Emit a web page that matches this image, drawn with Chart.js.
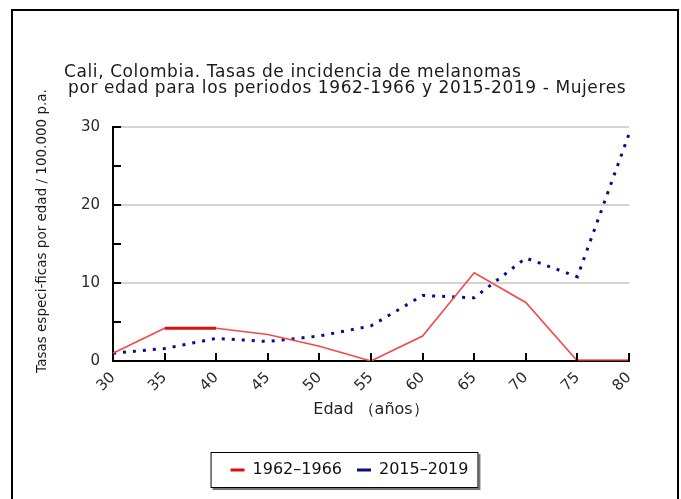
<!DOCTYPE html>
<html>
<head>
<meta charset="utf-8">
<script src="https://cdn.jsdelivr.net/npm/chart.js@4.4.0/dist/chart.umd.min.js"></script>
<style>
  html, body { margin: 0; padding: 0; background: #fff; }
  #wrap { width: 681px; height: 499px; position: relative; }
</style>
</head>
<body>
<div id="wrap"><canvas id="myChart" width="681" height="499"></canvas></div>
<script>
// datos
const edades = ["30", "35", "40", "45", "50", "55", "60", "65", "70", "75", "80"];
const tasas1962 = [1.0, 4.2, 4.2, 3.4, 1.9, 0.0, 3.2, 11.3, 7.5, 0.0, 0.0];
const tasas2015 = [1.0, 1.6, 2.9, 2.5, 3.2, 4.5, 8.4, 8.1, 13.2, 10.8, 29.1];
const yTicks = [0, 10, 20, 30];
const titulo = ["Cali, Colombia. Tasas de incidencia de melanomas",
  " por edad para los periodos 1962-1966 y 2015-2019 - Mujeres"];
const tituloY = "Tasas especi-ficas por edad / 100.000 p.a.";
const tituloX = "Edad \uFF08años\uFF09";
const series = ["1962\u20131966", "2015\u20132019"];

const FONT = "'DejaVu Sans', Verdana, sans-serif";

const decor = {
  id: "decor",
  beforeDraw(chart) {
    const ctx = chart.ctx;
    ctx.save();
    // marco
    ctx.strokeStyle = "#000";
    ctx.lineWidth = 2;
    ctx.strokeRect(12, 10, 666, 600);

    // titulo
    ctx.fillStyle = "#1a1a1a";
    ctx.font = "17px " + FONT;
    ctx.letterSpacing = "0.6px";
    ctx.textAlign = "left";
    ctx.textBaseline = "alphabetic";
    ctx.fillText(titulo[0], 64, 77);
    ctx.fillText(titulo[1], 62, 93);
    ctx.letterSpacing = "0px";

    // titulo eje y
    ctx.font = "13.5px " + FONT;
    ctx.textAlign = "center";
    ctx.textBaseline = "middle";
    ctx.translate(42, 231);
    ctx.rotate(-Math.PI / 2);
    ctx.fillText(tituloY, 0, 0);
    ctx.restore();

    // caja de la leyenda
    const hb = chart.legend.legendHitBoxes;
    if (hb && hb.length) {
      const last = hb[hb.length - 1];
      const l = hb[0].left - 20;
      const r = last.left + last.width + 10;
      const cy = hb[0].top + hb[0].height / 2;
      ctx.save();
      ctx.fillStyle = "#777";
      ctx.fillRect(l + 2, cy - 18 + 2, r - l, 36);
      ctx.fillStyle = "#fff";
      ctx.fillRect(l, cy - 18, r - l, 36);
      ctx.strokeStyle = "#000";
      ctx.lineWidth = 1;
      ctx.strokeRect(l + 0.5, cy - 18 + 0.5, r - l - 1, 35);
      ctx.restore();
    }
  },
  afterDraw(chart) {
    // marcas hacia dentro
    const ctx = chart.ctx;
    const x = chart.scales.x, y = chart.scales.y;
    ctx.save();
    ctx.strokeStyle = "#000";
    ctx.lineWidth = 2;
    ctx.beginPath();
    y.ticks.forEach((t) => {
      if (t.value === 0) return;
      const py = Math.round(y.getPixelForValue(t.value));
      ctx.moveTo(y.right, py);
      ctx.lineTo(y.right + 8, py);
    });
    edades.forEach((e, i) => {
      if (i === 0) return;
      const px = Math.round(x.getPixelForValue(i));
      ctx.moveTo(px, x.top);
      ctx.lineTo(px, x.top - 8);
    });
    ctx.stroke();
    ctx.restore();
  }
};

const plano = (c) => c.p0.parsed.y === c.p1.parsed.y;

const ctx = document.getElementById("myChart").getContext("2d");

new Chart(ctx, {
  type: "line",
  data: {
    labels: edades,
    datasets: [
      {
        label: series[0],
        data: tasas1962,
        borderColor: "#e02020",
        backgroundColor: "#e02020",
        borderWidth: 1.6,
        pointRadius: 0,
        tension: 0,
        segment: {
          borderWidth: (c) => (plano(c) ? 3 : 1.6),
          borderColor: (c) => (plano(c) ? "#d81010" : "#f04a4a"),
        },
      },
      {
        label: series[1],
        data: tasas2015,
        borderColor: "#0c0c88",
        backgroundColor: "#0c0c88",
        borderWidth: 3,
        borderDash: [3, 7],
        pointRadius: 0,
        tension: 0,
      },
    ],
  },
  options: {
    responsive: false,
    animation: false,
    layout: { padding: { top: 127, right: 0, bottom: 11, left: 18 } },
    plugins: {
      title: { display: false },
      tooltip: { enabled: false },
      legend: {
        position: "bottom",
        labels: {
          font: { family: FONT, size: 16 },
          color: "#111",
          usePointStyle: true,
          pointStyle: "line",
          pointStyleWidth: 14,
          padding: 15,
          generateLabels: (chart) => {
            const items = Chart.defaults.plugins.legend.labels.generateLabels(chart);
            items[0].lineWidth = 3;
            items[0].strokeStyle = "#d81010";
            items[1].lineWidth = 3;
            return items;
          },
        },
      },
    },
    scales: {
      x: {
        grid: { display: false },
        border: { display: true, color: "#000", width: 2 },
        ticks: {
          font: { family: FONT, size: 15 },
          color: "#2a2a2a",
          minRotation: 45,
          maxRotation: 45,
          padding: 0,
        },
        title: {
          display: true,
          text: tituloX,
          font: { family: FONT, size: 16 },
          color: "#222",
          padding: { top: 0, bottom: 28 },
        },
        afterFit: (s) => { s.height = 86; },
      },
      y: {
        min: 0,
        max: 30,
        grid: {
          drawTicks: false,
          color: (c) => (c.tick && c.tick.value > 0 && yTicks.includes(c.tick.value) ? "#d4d4d4" : "rgba(0,0,0,0)"),
          lineWidth: 2,
        },
        border: { display: true, color: "#000", width: 2 },
        ticks: {
          stepSize: 5,
          font: { family: FONT, size: 15 },
          color: "#2a2a2a",
          padding: 13,
          callback: (v) => (yTicks.includes(v) ? String(v) : ""),
        },
        afterFit: (s) => { s.width = 95; },
      },
      derecha: {
        type: "linear",
        position: "right",
        display: true,
        grid: { display: false },
        border: { display: false },
        ticks: { display: false },
        afterFit: (s) => { s.width = 52; },
      },
    },
  },
  plugins: [decor],
});
</script>
</body>
</html>
